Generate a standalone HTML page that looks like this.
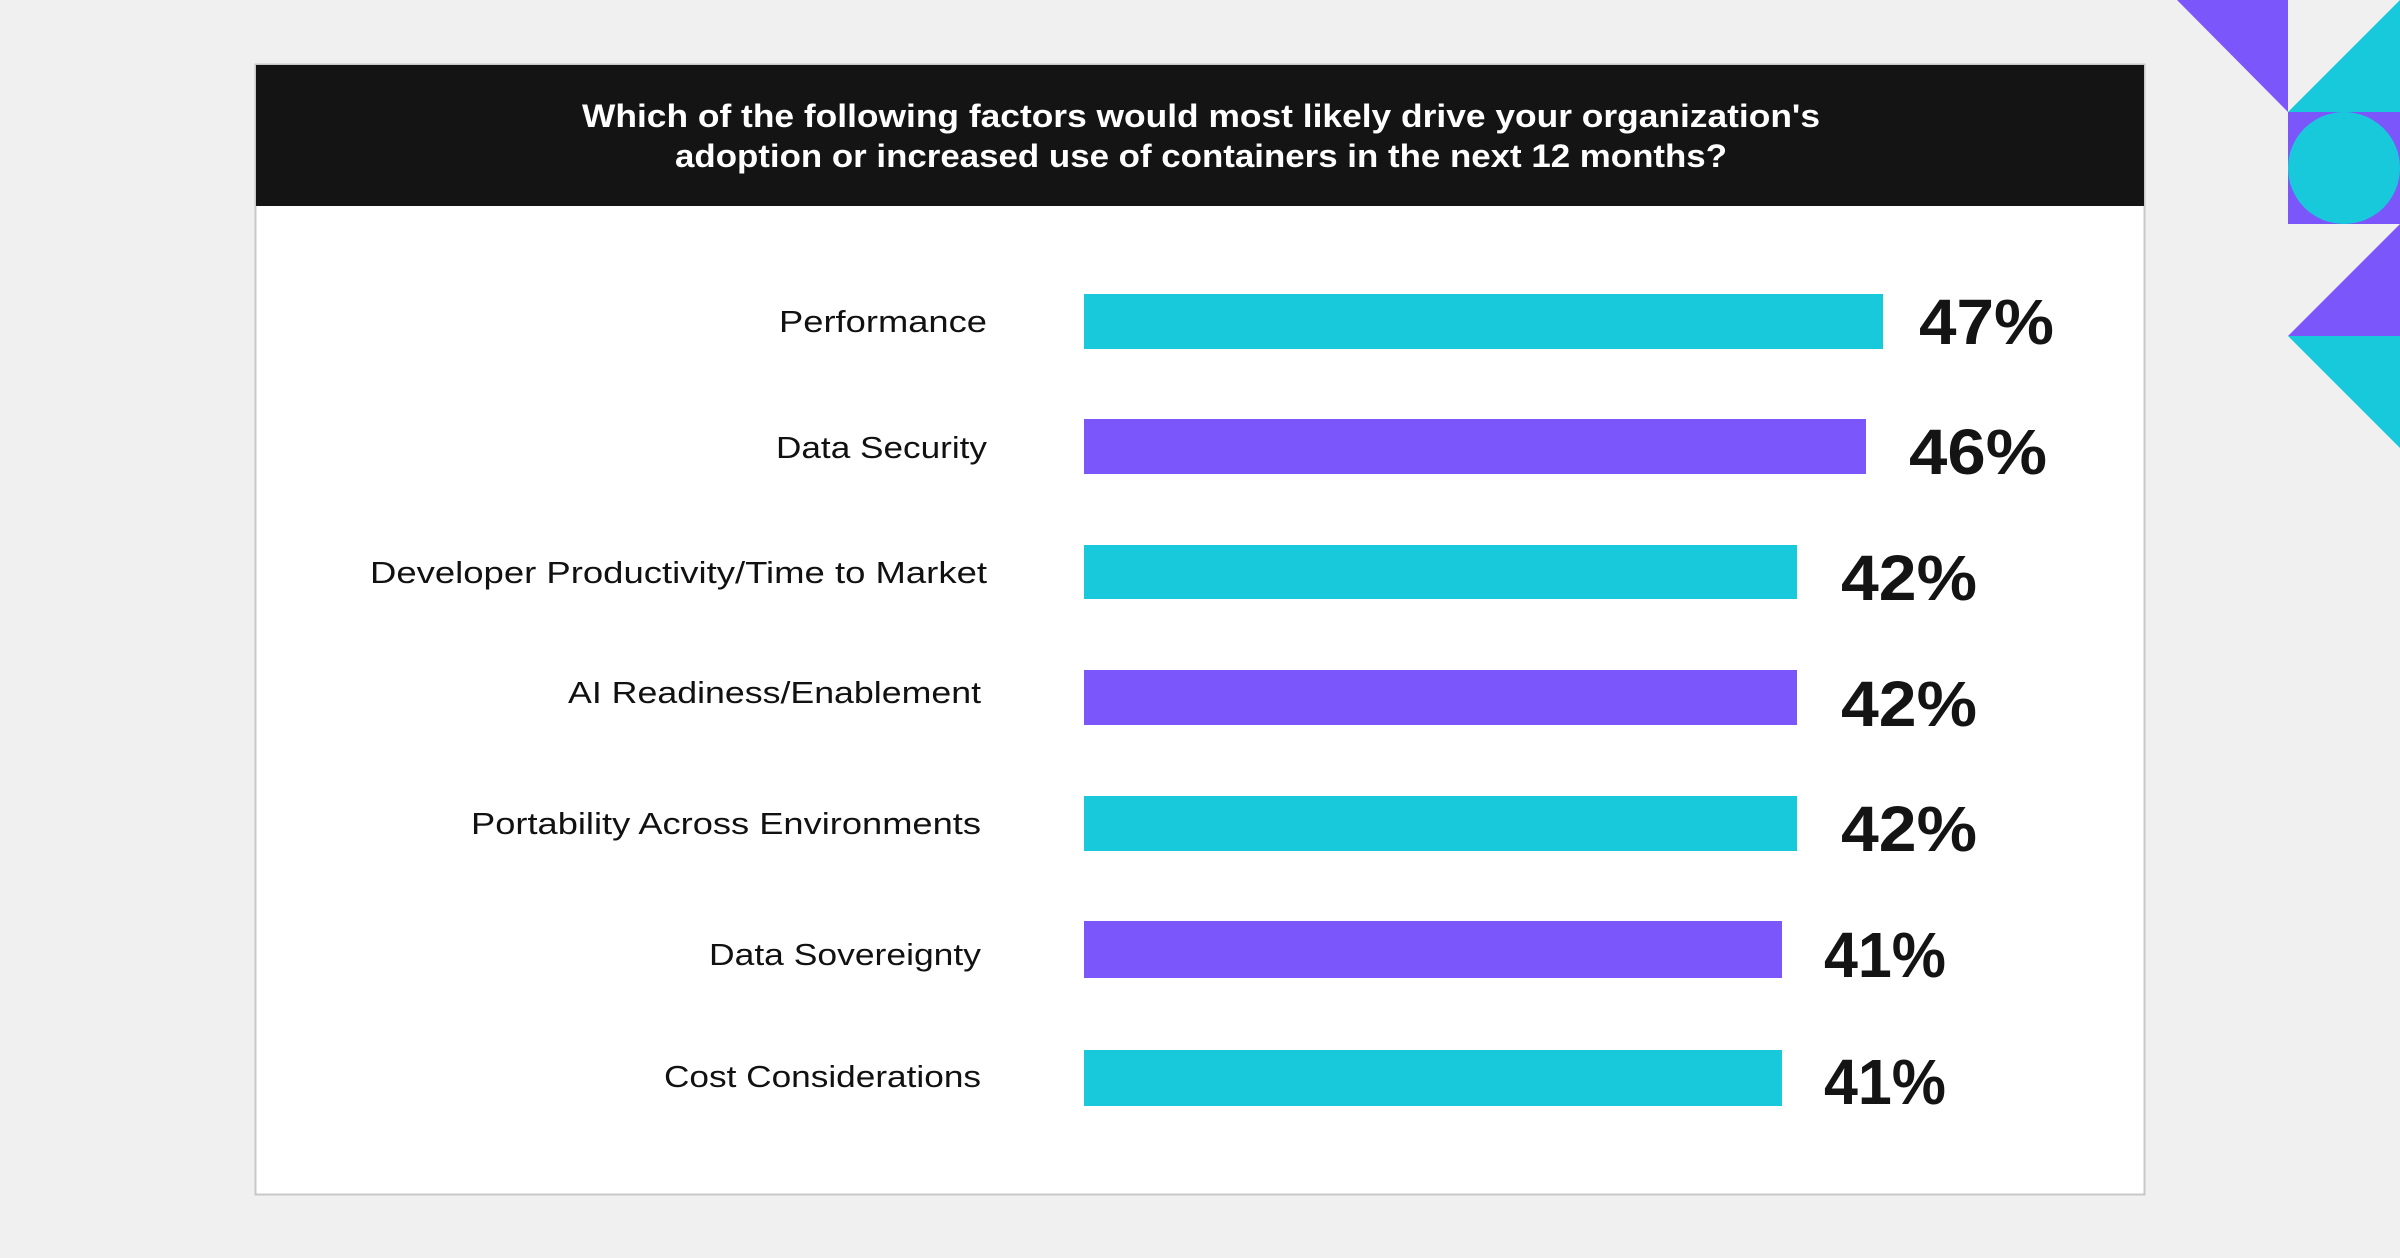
<!DOCTYPE html>
<html><head><meta charset="utf-8"><style>
html,body{margin:0;padding:0;background:#f0f0f0;}
svg{display:block;}
</style></head><body>
<svg width="2400" height="1258" viewBox="0 0 2400 1258" xmlns="http://www.w3.org/2000/svg">
<rect width="2400" height="1258" fill="#f0f0f0"/>
<polygon points="2177,0 2288,0 2288,112" fill="#7b57fb"/>
<polygon points="2288,112 2400,0 2400,112" fill="#18c9db"/>
<rect x="2288" y="112" width="112" height="112" fill="#7b57fb"/>
<circle cx="2344" cy="168" r="56" fill="#18c9db"/>
<polygon points="2288,336 2400,224 2400,336" fill="#7b57fb"/>
<polygon points="2288,336 2400,336 2400,448" fill="#18c9db"/>
<rect x="255.5" y="64.5" width="1889" height="1130" fill="#fff" stroke="#c8c8c8" stroke-width="2"/>
<rect x="256" y="65" width="1888" height="141" fill="#141414"/>
<g font-family="Liberation Sans, sans-serif" font-weight="bold" font-size="32" fill="#fff" lengthAdjust="spacingAndGlyphs">
<text x="582" y="127" textLength="1238" lengthAdjust="spacingAndGlyphs">Which of the following factors would most likely drive your organization's</text>
<text x="675" y="167" textLength="1052" lengthAdjust="spacingAndGlyphs">adoption or increased use of containers in the next 12 months?</text>
</g>
<rect x="1084" y="294" width="799" height="55" fill="#18c9db"/>
<rect x="1084" y="419" width="782" height="55" fill="#7b57fb"/>
<rect x="1084" y="545" width="713" height="54" fill="#18c9db"/>
<rect x="1084" y="670" width="713" height="55" fill="#7b57fb"/>
<rect x="1084" y="796" width="713" height="55" fill="#18c9db"/>
<rect x="1084" y="921" width="698" height="57" fill="#7b57fb"/>
<rect x="1084" y="1050" width="698" height="56" fill="#18c9db"/>
<g font-family="Liberation Sans, sans-serif" font-size="31" fill="#111">
<text x="779" y="332" textLength="208" lengthAdjust="spacingAndGlyphs">Performance</text>
<text x="776" y="458" textLength="211" lengthAdjust="spacingAndGlyphs">Data Security</text>
<text x="370" y="583" textLength="617" lengthAdjust="spacingAndGlyphs">Developer Productivity/Time to Market</text>
<text x="568" y="703" textLength="413" lengthAdjust="spacingAndGlyphs">AI Readiness/Enablement</text>
<text x="471" y="834" textLength="510" lengthAdjust="spacingAndGlyphs">Portability Across Environments</text>
<text x="709" y="965" textLength="272" lengthAdjust="spacingAndGlyphs">Data Sovereignty</text>
<text x="664" y="1087" textLength="317" lengthAdjust="spacingAndGlyphs">Cost Considerations</text>
</g>
<g font-family="Liberation Sans, sans-serif" font-weight="bold" font-size="64" fill="#141414">
<text x="1919" y="344" textLength="135" lengthAdjust="spacingAndGlyphs">47%</text>
<text x="1909" y="474" textLength="138" lengthAdjust="spacingAndGlyphs">46%</text>
<text x="1841" y="600" textLength="136" lengthAdjust="spacingAndGlyphs">42%</text>
<text x="1841" y="726" textLength="136" lengthAdjust="spacingAndGlyphs">42%</text>
<text x="1841" y="851" textLength="136" lengthAdjust="spacingAndGlyphs">42%</text>
<text x="1824" y="977" textLength="122" lengthAdjust="spacingAndGlyphs">41%</text>
<text x="1824" y="1104" textLength="122" lengthAdjust="spacingAndGlyphs">41%</text>
</g>
</svg>
</body></html>
